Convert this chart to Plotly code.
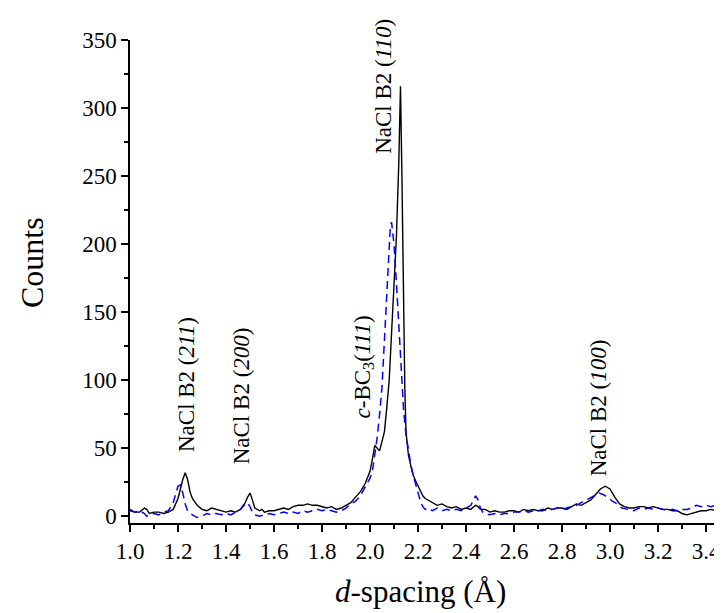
import plotly.graph_objects as go

# Black solid series (d-spacing in Å, counts)
d_black = [1.00, 1.02, 1.04, 1.06, 1.07, 1.08, 1.10, 1.12, 1.14, 1.16, 1.18, 1.20, 1.22, 1.23, 1.24, 1.25,
           1.26, 1.28, 1.30, 1.32, 1.34, 1.36, 1.38, 1.40, 1.42, 1.44, 1.46, 1.48, 1.49, 1.50, 1.51,
           1.52, 1.54, 1.55, 1.56, 1.58, 1.60, 1.62, 1.64, 1.66, 1.68, 1.70, 1.72, 1.74, 1.76, 1.78,
           1.80, 1.82, 1.84, 1.86, 1.88, 1.90, 1.92, 1.94, 1.96, 1.98, 2.00, 2.01, 2.02, 2.03, 2.04,
           2.05, 2.06, 2.07, 2.08, 2.09, 2.10, 2.11, 2.12, 2.127, 2.133, 2.14, 2.145, 2.15, 2.16, 2.17,
           2.18, 2.19, 2.20, 2.21, 2.22, 2.23, 2.24, 2.26, 2.28, 2.30, 2.32, 2.34, 2.36, 2.38, 2.40,
           2.42, 2.44, 2.45, 2.46, 2.48, 2.50, 2.52, 2.54, 2.56, 2.58, 2.60, 2.62, 2.64, 2.66, 2.68,
           2.70, 2.72, 2.74, 2.76, 2.78, 2.80, 2.82, 2.84, 2.86, 2.88, 2.90, 2.92, 2.94, 2.96, 2.98,
           3.00, 3.02, 3.04, 3.06, 3.08, 3.10, 3.12, 3.14, 3.16, 3.18, 3.20, 3.22, 3.24, 3.26, 3.28,
           3.30, 3.32, 3.34, 3.36, 3.38, 3.40, 3.42, 3.44, 3.46, 3.48, 3.50]
c_black = [4, 3, 3, 6, 5, 2, 3, 3, 2, 3, 5, 13, 27, 32, 27, 18,
           13, 8, 5, 4, 6, 5, 4, 3, 4, 3, 5, 10, 14, 17, 12,
           6, 4, 5, 3, 4, 4, 5, 6, 5, 7, 8, 8, 9, 8, 8,
           7, 6, 7, 5, 6, 8, 10, 14, 18, 24, 33, 42, 52, 50, 48,
           55, 62, 80, 100, 135, 170, 205, 260, 316, 250, 150, 95, 62, 45, 37,
           30, 26, 22, 18, 15, 13, 12, 10, 8, 9, 7, 6, 7, 5, 6,
           5, 8, 7, 5, 5, 3, 4, 3, 3, 4, 4, 3, 5, 4, 5,
           4, 4, 6, 5, 6, 6, 5, 7, 9, 8, 10, 12, 16, 20, 22,
           20, 14, 9, 7, 6, 6, 7, 7, 6, 7, 6, 5, 5, 4, 4,
           2, 1, 2, 3, 4, 4, 5, 4, 5, 6, 5]

# Blue dashed series
d_blue = [1.00, 1.02, 1.04, 1.06, 1.07, 1.08, 1.10, 1.12, 1.14, 1.16, 1.18, 1.19, 1.20, 1.21, 1.22, 1.23,
          1.24, 1.26, 1.28, 1.30, 1.32, 1.34, 1.36, 1.38, 1.40, 1.42, 1.44, 1.46, 1.48, 1.49, 1.50,
          1.51, 1.52, 1.54, 1.56, 1.58, 1.60, 1.62, 1.64, 1.66, 1.68, 1.70, 1.72, 1.74, 1.76, 1.78,
          1.80, 1.82, 1.84, 1.86, 1.88, 1.90, 1.92, 1.94, 1.96, 1.98, 2.00, 2.01, 2.02, 2.03, 2.04,
          2.05, 2.06, 2.07, 2.08, 2.085, 2.09, 2.10, 2.11, 2.12, 2.13, 2.14, 2.15, 2.16, 2.17, 2.18,
          2.19, 2.20, 2.21, 2.22, 2.23, 2.24, 2.26, 2.28, 2.30, 2.32, 2.34, 2.36, 2.38, 2.40, 2.42,
          2.44, 2.45, 2.46, 2.47, 2.48, 2.50, 2.52, 2.54, 2.56, 2.58, 2.60, 2.62, 2.64, 2.66, 2.68,
          2.70, 2.72, 2.74, 2.76, 2.78, 2.80, 2.82, 2.84, 2.86, 2.88, 2.90, 2.92, 2.94, 2.955, 2.97,
          2.99, 3.01, 3.03, 3.05, 3.08, 3.10, 3.12, 3.14, 3.16, 3.18, 3.20, 3.22, 3.24, 3.26, 3.28,
          3.30, 3.32, 3.34, 3.36, 3.38, 3.40, 3.42, 3.44, 3.46, 3.48, 3.50]
c_blue = [5, 3, 4, 2, 0, 1, 2, 1, 3, 4, 10, 17, 22, 23, 17, 9,
          4, 1, -1, 0, 2, 1, 2, 1, 2, 1, 3, 5, 9, 10, 7,
          3, 1, 0, 1, 2, 1, 2, 3, 2, 3, 2, 4, 3, 4, 5,
          4, 5, 4, 3, 4, 6, 9, 11, 15, 21, 28, 33, 44, 58, 75,
          95, 129, 165, 205, 214, 216, 200, 172, 140, 105, 78, 60, 48, 38, 30,
          23, 16, 11, 7, 5, 6, 4, 6, 4, 5, 4, 5, 4, 6, 8,
          15, 12, 6, 3, 2, 1, 2, 1, 2, 2, 3, 3, 4, 3, 4,
          4, 5, 4, 5, 6, 5, 6, 7, 8, 10, 12, 14, 16, 17, 16,
          14, 11, 9, 6, 5, 4, 6, 5, 6, 5, 6, 5, 4, 5, 4,
          5, 5, 6, 8, 7, 8, 7, 8, 8, 7, 8]

# Peak labels
label_text = ["NaCl B2 (<i>211</i>)", "NaCl B2 (<i>200</i>)", "<i>c</i>-BC<sub>3</sub>(<i>111</i>)",
              "NaCl B2 (<i>110</i>)", "NaCl B2 (<i>100</i>)"]
label_d = [1.233, 1.462, 1.975, 2.053, 2.953]
label_c = [46, 37, 70, 265, 28]

x_title = "<i>d</i>-spacing (Å)"
y_title = "Counts"

FONT = "Liberation Serif"
L, R, T, B = 122, 0, 32, 98
W, H = 722, 613
PW, PH = W - L - R, H - T - B

fig = go.Figure()
fig.add_trace(go.Scatter(x=d_black, y=c_black, mode="lines",
                         line=dict(color="black", width=1.4), showlegend=False))
fig.add_trace(go.Scatter(x=d_blue, y=c_blue, mode="lines",
                         line=dict(color="blue", width=1.5, dash="8px,5px"), showlegend=False))

for t, xd, yc in zip(label_text, label_d, label_c):
    fig.add_annotation(x=xd, y=yc, xref="x", yref="y", text=t, textangle=-90,
                       showarrow=False, xanchor="center", yanchor="bottom",
                       font=dict(family=FONT, size=23, color="black"))

# Axis titles placed as paper-referenced annotations
fig.add_annotation(x=(412 - L) / PW, y=-(583 - (H - B)) / PH, xref="paper", yref="paper",
                   text=x_title, showarrow=False, xanchor="center", yanchor="middle",
                   font=dict(family=FONT, size=31, color="black"))
fig.add_annotation(x=(24 - L) / PW, y=1 - (255 - T) / PH, xref="paper", yref="paper",
                   text=y_title, textangle=-90, showarrow=False, xanchor="center", yanchor="middle",
                   font=dict(family=FONT, size=32, color="black"))

fig.update_layout(
    width=W, height=H,
    margin=dict(l=L, r=R, t=T, b=B),
    paper_bgcolor="white", plot_bgcolor="white",
    font=dict(family=FONT, size=23, color="black"),
)
fig.update_xaxes(range=[1.0, 3.5], dtick=0.2, tick0=1.0, tickformat=".1f",
                 showline=True, linecolor="black", linewidth=1.5,
                 ticks="outside", ticklen=7, tickwidth=1.5, tickcolor="black",
                 minor=dict(dtick=0.1, ticks="outside", ticklen=4, tickwidth=1.5, tickcolor="black"),
                 showgrid=False, zeroline=False)
fig.update_yaxes(range=[-5, 350], dtick=50, tick0=0,
                 showline=True, linecolor="black", linewidth=1.5,
                 ticks="outside", ticklen=7, tickwidth=1.5, tickcolor="black",
                 minor=dict(dtick=25, ticks="outside", ticklen=4, tickwidth=1.5, tickcolor="black"),
                 showgrid=False, zeroline=False)

fig.write_html("out.html")
